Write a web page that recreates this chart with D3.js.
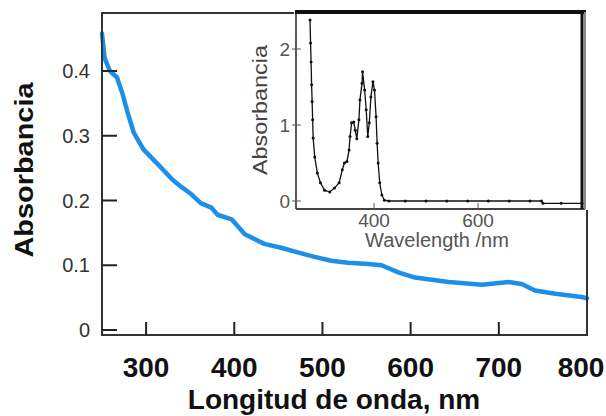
<!DOCTYPE html>
<html>
<head>
<meta charset="utf-8">
<script src="https://cdn.jsdelivr.net/npm/d3@7"></script>
<style>
  body { margin: 0; background: #fff; }
  svg { display: block; font-family: "Liberation Sans", Arial, sans-serif; }
</style>
</head>
<body>
<div id="chart-area"></div>
<script>
// main spectrum (blue)
var mainNm  = [250, 253, 259, 267, 273, 279, 286, 297, 314, 330, 340, 351, 362, 374, 381, 397, 412, 434, 453, 472, 491, 510, 529, 552, 567, 586, 605, 643, 681, 711, 726, 741, 764, 794, 800];
var mainAbs = [0.458, 0.42, 0.40, 0.39, 0.366, 0.336, 0.305, 0.279, 0.255, 0.232, 0.221, 0.210, 0.196, 0.189, 0.178, 0.171, 0.148, 0.133, 0.127, 0.120, 0.113, 0.107, 0.104, 0.102, 0.100, 0.089, 0.081, 0.074, 0.070, 0.074, 0.071, 0.061, 0.056, 0.051, 0.049];
var mainXTicks = [300, 400, 500, 600, 700, 800];
var mainYTicks = [0, 0.1, 0.2, 0.3, 0.4];

// inset spectrum (black dots)
var insetNm  = [277, 278, 279, 280, 281, 282, 283, 286, 291, 297, 305, 315, 324, 333, 339, 343, 348, 352, 354, 357, 361, 364, 367, 371, 373, 377, 378, 382, 385, 388, 391, 394, 398, 401, 404, 406, 408, 411, 415, 420, 429, 460, 500, 540, 580, 620, 660, 700, 722, 725, 760, 800];
var insetAbs = [2.38, 2.08, 1.83, 1.53, 1.31, 1.07, 0.83, 0.58, 0.37, 0.24, 0.14, 0.12, 0.17, 0.24, 0.41, 0.50, 0.52, 0.67, 0.85, 1.03, 1.04, 0.93, 0.82, 1.07, 1.33, 1.55, 1.70, 1.46, 1.20, 0.85, 1.03, 1.37, 1.57, 1.46, 1.11, 0.76, 0.50, 0.24, 0.08, 0.01, 0.0, 0.0, 0.0, 0.0, 0.0, 0.0, 0.0, 0.0, 0.0, -0.03, -0.03, -0.03];
var insetXTicks = [400, 600];
var insetYTicks = [0, 1, 2];

var svg = d3.select("#chart-area").append("svg")
    .attr("width", 606)
    .attr("height", 416);

var x = d3.scaleLinear().domain([250, 800]).range([102, 587]);
var y = d3.scaleLinear().domain([0, 0.4]).range([330, 71]);
var plotTop = 13, plotBottom = 335;

// main curve
var line = d3.line()
    .x((d, i) => x(mainNm[i]))
    .y((d) => y(d));

svg.append("path")
    .attr("fill", "none")
    .attr("stroke", "#1e8fe6")
    .attr("stroke-width", 4.5)
    .attr("stroke-linejoin", "round")
    .attr("stroke-linecap", "round")
    .attr("d", line(mainAbs));

// main frame
svg.append("rect")
    .attr("x", x.range()[0]).attr("y", plotTop)
    .attr("width", x.range()[1] - x.range()[0]).attr("height", plotBottom - plotTop)
    .attr("fill", "none").attr("stroke", "#333").attr("stroke-width", 2);

// y ticks (inward) and labels
svg.selectAll(".ytick").data(mainYTicks).enter().append("line")
    .attr("x1", 102).attr("x2", 117)
    .attr("y1", (d) => y(d)).attr("y2", (d) => y(d))
    .attr("stroke", "#222").attr("stroke-width", 2);
svg.selectAll(".ylab").data(mainYTicks).enter().append("text")
    .attr("x", 90).attr("y", (d) => y(d) + 7)
    .attr("text-anchor", "end")
    .attr("font-size", 20).attr("fill", "#333")
    .text((d) => d === 0 ? "0" : d3.format(".1f")(d));

// x ticks (inward) and labels
svg.selectAll(".xtick").data(mainXTicks.filter((d) => d < 800)).enter().append("line")
    .attr("x1", (d) => x(d)).attr("x2", (d) => x(d))
    .attr("y1", plotBottom).attr("y2", plotBottom - 13)
    .attr("stroke", "#222").attr("stroke-width", 2);
svg.selectAll(".xlab").data(mainXTicks).enter().append("text")
    .attr("x", (d) => Math.min(x(d), 581)).attr("y", 377)
    .attr("text-anchor", "middle")
    .attr("font-size", 28).attr("font-weight", "bold").attr("fill", "#111")
    .text((d) => d);

svg.append("text")
    .attr("x", 334).attr("y", 409)
    .attr("text-anchor", "middle")
    .attr("font-size", 28).attr("font-weight", "bold").attr("fill", "#111")
    .text("Longitud de onda, nm");

svg.append("text")
    .attr("transform", "translate(33, 170) rotate(-90)")
    .attr("text-anchor", "middle")
    .attr("font-size", 26).attr("font-weight", "bold").attr("fill", "#111")
    .attr("textLength", 175).attr("lengthAdjust", "spacingAndGlyphs")
    .text("Absorbancia");

// ---- inset ----
var ix = d3.scaleLinear().domain([250, 800]).range([296, 582]);
var iy = d3.scaleLinear().domain([0, 2]).range([201, 49]);
var itop = 12, ibottom = 209;

svg.append("rect")
    .attr("x", 294).attr("y", 0)
    .attr("width", 312).attr("height", ibottom + 1)
    .attr("fill", "#fff");

var iline = d3.line()
    .x((d, i) => ix(insetNm[i]))
    .y((d) => iy(d));

svg.append("path")
    .attr("fill", "none")
    .attr("stroke", "#111")
    .attr("stroke-width", 1.3)
    .attr("d", iline(insetAbs));

svg.selectAll(".idot").data(insetAbs).enter().append("circle")
    .attr("cx", (d, i) => ix(insetNm[i]))
    .attr("cy", (d) => iy(d))
    .attr("r", 1.5)
    .attr("fill", "#111");

// inset frame
svg.append("line").attr("x1", ix.range()[0]).attr("x2", ix.range()[0])
    .attr("y1", itop).attr("y2", ibottom).attr("stroke", "#222").attr("stroke-width", 1.5);
svg.append("line").attr("x1", ix.range()[0]).attr("x2", ix.range()[1] + 3)
    .attr("y1", ibottom).attr("y2", ibottom).attr("stroke", "#444").attr("stroke-width", 2);
svg.append("line").attr("x1", ix.range()[0] - 1).attr("x2", ix.range()[1] + 4)
    .attr("y1", itop).attr("y2", itop).attr("stroke", "#111").attr("stroke-width", 4);
svg.append("line").attr("x1", ix.range()[1]).attr("x2", ix.range()[1])
    .attr("y1", itop).attr("y2", ibottom).attr("stroke", "#111").attr("stroke-width", 3);
svg.append("line").attr("x1", ix.range()[1] + 3).attr("x2", ix.range()[1] + 3)
    .attr("y1", itop).attr("y2", ibottom).attr("stroke", "#888").attr("stroke-width", 2);

svg.selectAll(".iytick").data(insetYTicks).enter().append("line")
    .attr("x1", 292).attr("x2", 301)
    .attr("y1", (d) => iy(d)).attr("y2", (d) => iy(d))
    .attr("stroke", "#555").attr("stroke-width", 1);
svg.selectAll(".iylab").data(insetYTicks).enter().append("text")
    .attr("x", 290).attr("y", (d) => iy(d) + 7)
    .attr("text-anchor", "end")
    .attr("font-size", 19).attr("fill", "#555")
    .text((d) => d);

svg.selectAll(".ixtick").data(insetXTicks).enter().append("line")
    .attr("x1", (d) => ix(d)).attr("x2", (d) => ix(d))
    .attr("y1", ibottom).attr("y2", ibottom - 6)
    .attr("stroke", "#555").attr("stroke-width", 1);
svg.selectAll(".ixlab").data(insetXTicks).enter().append("text")
    .attr("x", (d) => ix(d)).attr("y", 227)
    .attr("text-anchor", "middle")
    .attr("font-size", 19).attr("fill", "#555")
    .text((d) => d);

svg.append("text")
    .attr("x", 437).attr("y", 247)
    .attr("text-anchor", "middle")
    .attr("font-size", 20).attr("fill", "#555")
    .text("Wavelength /nm");

svg.append("text")
    .attr("transform", "translate(267, 110) rotate(-90)")
    .attr("text-anchor", "middle")
    .attr("font-size", 20).attr("fill", "#444")
    .attr("textLength", 130).attr("lengthAdjust", "spacingAndGlyphs")
    .text("Absorbancia");
</script>
</body>
</html>
